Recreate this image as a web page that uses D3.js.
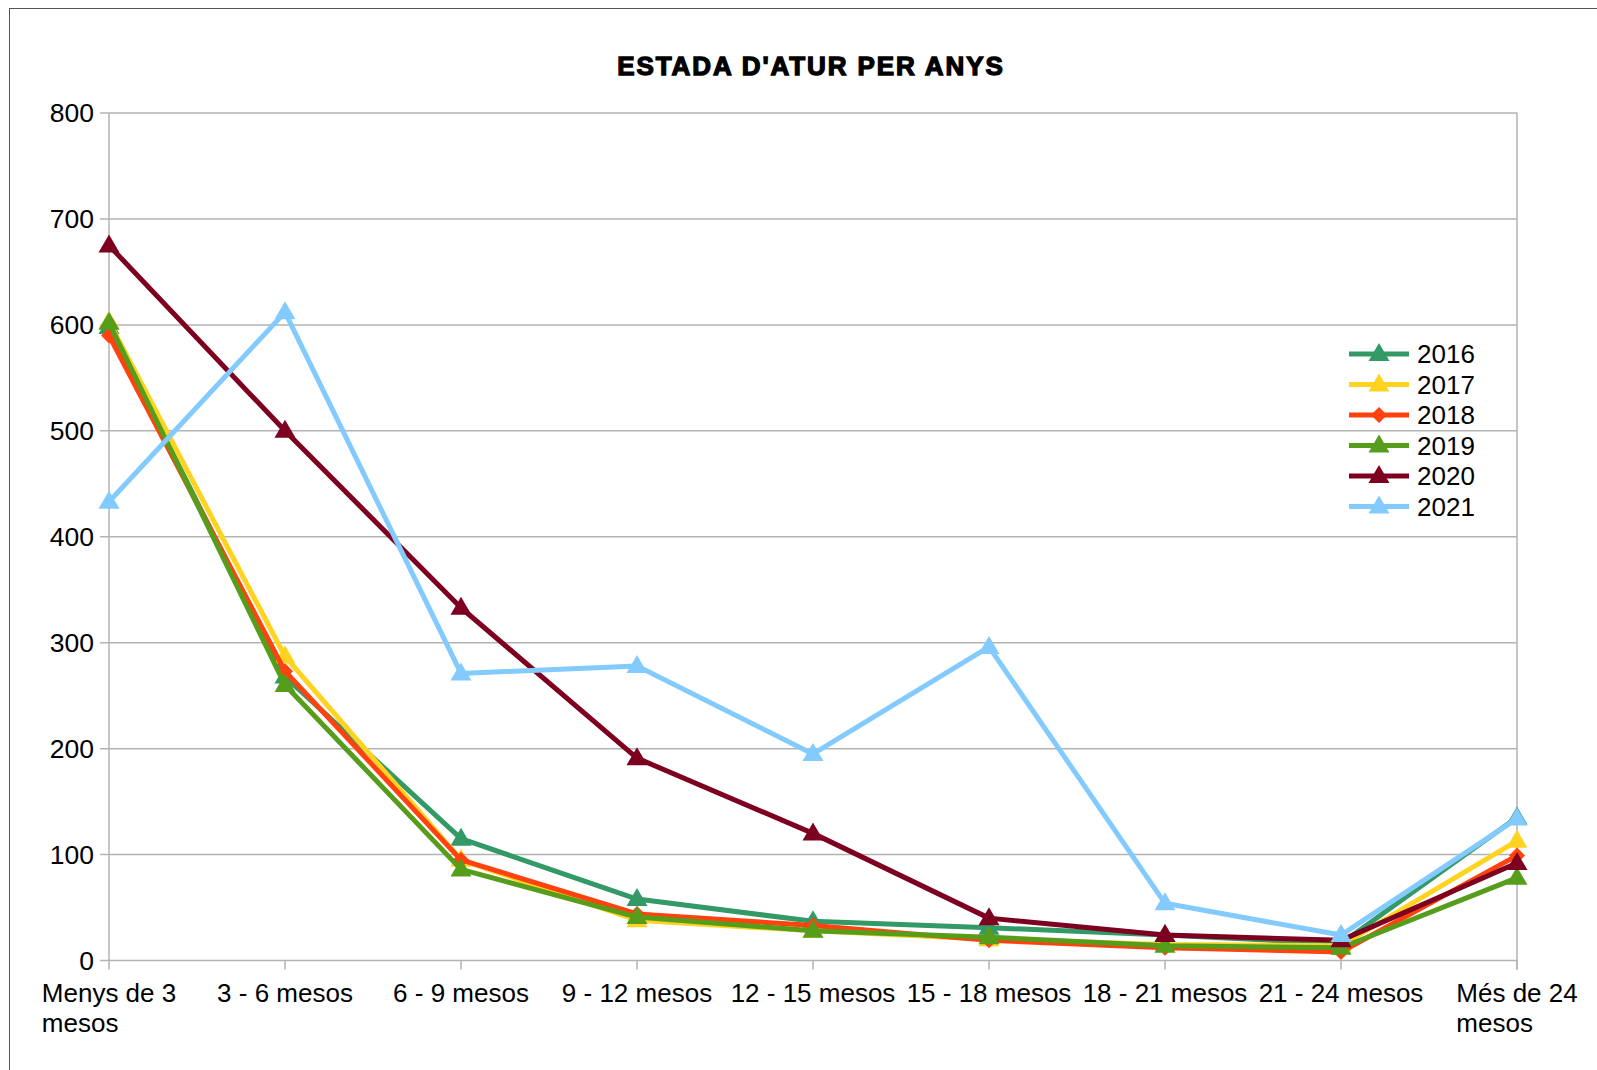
<!DOCTYPE html>
<html lang="ca">
<head>
<meta charset="UTF-8">
<title>Estada d'atur per anys</title>
<script src="https://d3js.org/d3.v7.min.js"></script>
<style>
  body { margin: 0; background: #fff; overflow: hidden; }
  svg { display: block; }
  text { font-family: "Liberation Sans", Arial, sans-serif; fill: #000; }
</style>
</head>
<body>
<svg></svg>
<script>
// === Data ===
const categories = [
  "Menys de 3 mesos", "3 - 6 mesos", "6 - 9 mesos", "9 - 12 mesos",
  "12 - 15 mesos", "15 - 18 mesos", "18 - 21 mesos", "21 - 24 mesos", "Més de 24 mesos"
];
const years = ["2016", "2017", "2018", "2019", "2020", "2021"];
const v2016 = [598, 268, 115, 58, 37, 31, 24, 16, 135];
const v2017 = [603, 287, 95, 38, 28, 20, 15, 14, 113];
const v2018 = [590, 273, 95, 44, 33, 19, 12, 8, 99];
const v2019 = [602, 260, 86, 41, 28, 22, 14, 12, 78];
const v2020 = [675, 500, 333, 191, 120, 40, 24, 19, 92];
const v2021 = [433, 612, 271, 278, 195, 296, 54, 24, 134];
const yTicks = [0, 100, 200, 300, 400, 500, 600, 700, 800];

const colors = ["#339966", "#ffd320", "#ff420e", "#579d1c", "#7e0021", "#83caff"];
const shapes = ["tri", "tri", "diamond", "tri", "tri", "tri"];
const series = [v2016, v2017, v2018, v2019, v2020, v2021].map((values, i) => ({
  name: years[i], values, color: colors[i], shape: shapes[i]
}));

const width = 1597, height = 1070;
const svg = d3.select("svg").attr("width", width).attr("height", height);

// frame
svg.append("rect")
  .attr("x", 9.5).attr("y", 8.5)
  .attr("width", 1700).attr("height", 1200)
  .attr("fill", "none").attr("stroke", "#555").attr("stroke-width", 1);

// === Scales ===
const x = d3.scalePoint().domain(categories).range([109, 1517]);
const y = d3.scaleLinear().domain([0, 800]).range([960.5, 113]);

// gridlines
svg.append("g")
  .selectAll("line")
  .data(yTicks)
  .join("line")
  .attr("x1", 100).attr("x2", x.range()[1])
  .attr("y1", d => y(d)).attr("y2", d => y(d))
  .attr("stroke", "#b3b3b3").attr("stroke-width", 1.5);

// y axis line + right border
svg.append("line")
  .attr("x1", 109).attr("x2", 109).attr("y1", y(800)).attr("y2", y(0))
  .attr("stroke", "#b3b3b3").attr("stroke-width", 1.5);
svg.append("line")
  .attr("x1", x.range()[1]).attr("x2", x.range()[1]).attr("y1", y(800)).attr("y2", y(0) + 9)
  .attr("stroke", "#b3b3b3").attr("stroke-width", 1.5);

// x ticks
svg.append("g")
  .selectAll("line")
  .data(categories)
  .join("line")
  .attr("x1", d => x(d)).attr("x2", d => x(d))
  .attr("y1", y(0)).attr("y2", y(0) + 9)
  .attr("stroke", "#b3b3b3").attr("stroke-width", 1.5);

// y labels
svg.append("g")
  .selectAll("text")
  .data(yTicks)
  .join("text")
  .attr("x", 94)
  .attr("y", d => y(d))
  .attr("dy", "0.35em")
  .attr("text-anchor", "end")
  .attr("font-size", 26.5)
  .text(d => d);

// x labels (long ones wrap, left aligned block centred on tick)
const xl = svg.append("g");
categories.forEach(c => {
  const parts = c.startsWith("Menys") ? ["Menys de 3", "mesos"]
              : c.startsWith("Més") ? ["Més de 24", "mesos"] : [c];
  const t = xl.append("text").attr("font-size", 26).attr("y", 1002);
  if (parts.length === 1) {
    t.attr("x", x(c)).attr("text-anchor", "middle").text(c);
  } else {
    const first = t.append("tspan").text(parts[0]);
    const w = first.node().getComputedTextLength();
    const left = x(c) - w / 2;
    first.attr("x", left);
    t.append("tspan").attr("x", left).attr("dy", 30).text(parts[1]);
  }
});

// title
svg.append("text")
  .attr("x", 811).attr("y", 75)
  .attr("text-anchor", "middle")
  .attr("font-size", 26)
  .attr("font-weight", "bold")
  .attr("letter-spacing", 1.9)
  .attr("stroke", "#000").attr("stroke-width", 1.3)
  .text("ESTADA D'ATUR PER ANYS");

// === Lines ===
function markerPath(shape) {
  return shape === "diamond" ? "M0,-8L8,0L0,8L-8,0Z" : "M0,-11L10.5,7L-10.5,7Z";
}

const line = d3.line().x((d, i) => x(categories[i])).y(d => y(d));

const g = svg.append("g");
series.forEach(s => {
  g.append("path")
    .attr("d", line(s.values))
    .attr("fill", "none")
    .attr("stroke", s.color)
    .attr("stroke-width", 5)
    .attr("stroke-linejoin", "round");
  g.append("g")
    .selectAll("path")
    .data(s.values)
    .join("path")
    .attr("transform", (d, i) => `translate(${x(categories[i])},${y(d)})`)
    .attr("d", markerPath(s.shape))
    .attr("fill", s.color);
});

// === Legend ===
const legend = svg.append("g").attr("transform", "translate(1349,354)");
const row = legend.selectAll("g")
  .data(series)
  .join("g")
  .attr("transform", (d, i) => `translate(0,${i * 30.5})`);
row.append("line")
  .attr("x1", 0).attr("x2", 60).attr("y1", 0).attr("y2", 0)
  .attr("stroke", d => d.color).attr("stroke-width", 5);
row.append("path")
  .attr("transform", "translate(30,0)")
  .attr("d", d => markerPath(d.shape))
  .attr("fill", d => d.color);
row.append("text")
  .attr("x", 68).attr("dy", "0.35em")
  .attr("font-size", 26)
  .text(d => d.name);
</script>
</body>
</html>
